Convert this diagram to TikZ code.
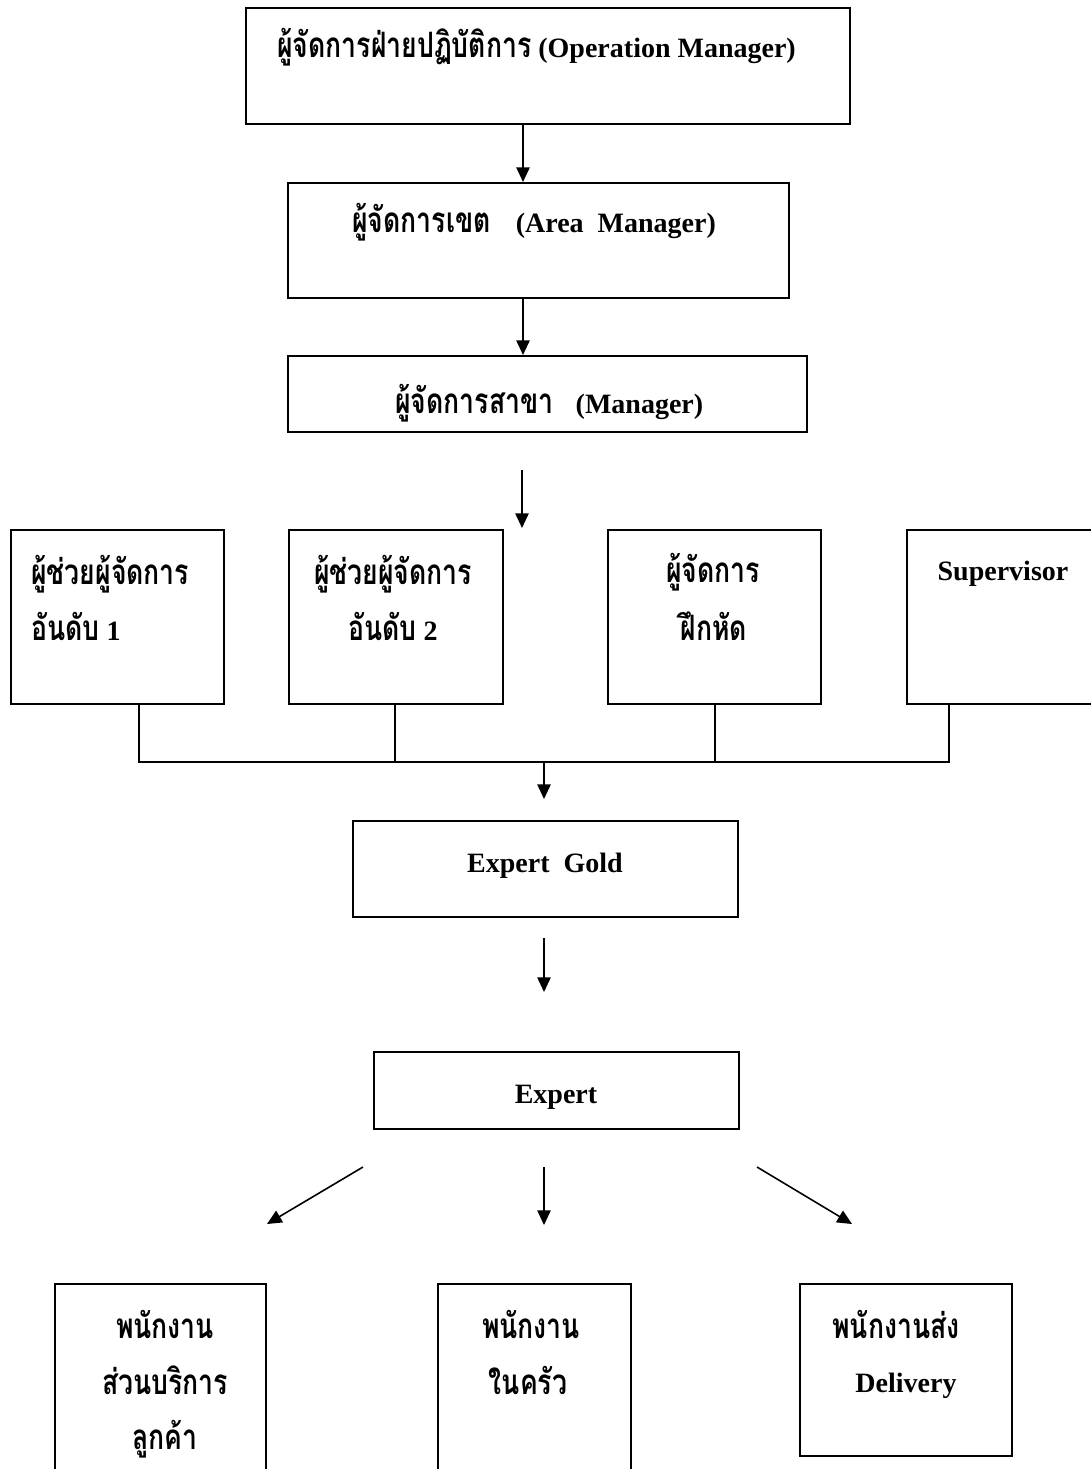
\documentclass[tikz,border=0pt]{standalone}
\usepackage{fontspec}
\setmainfont{Liberation Serif}
\newfontfamily\thaifont[Script=Thai,Scale=1.25,FakeStretch=0.76]{Loma}
\newcommand\thtxt[1]{{\thaifont #1}}
\usetikzlibrary{arrows.meta}
\newdimen\upx
\upx=0.75pt
\tikzset{
  box/.style={draw, line width=1.4pt, anchor=north west, inner sep=0pt},
  link/.style={line width=1.2pt},
  arr/.style={link, -{Triangle[length=11pt,width=10pt]}},
  lbl/.style={anchor=base, inner sep=0pt, font=\fontsize{21pt}{25pt}\selectfont\bfseries},
  lbll/.style={lbl, anchor=base west},
}
\begin{document}
\begin{tikzpicture}[x=0.75pt,y=-0.75pt]
\useasboundingbox (0,0) rectangle (1091,1469);

% management chain
\node[box, minimum width=604\upx, minimum height=116\upx] (op) at (245,7) {};
\node[box, minimum width=501\upx, minimum height=115\upx] (area) at (287,182) {};
\node[box, minimum width=519\upx, minimum height=76\upx] (mgr) at (287,355) {};

\node[lbll] (op-t) at (277,58) {\thtxt{ผู้จัดการฝ่ายปฏิบัติการ} (Operation Manager)};
\node[lbll] (area-t) at (352,233) {\thtxt{ผู้จัดการเขต}\hspace{0.9em}(Area\ \ Manager)};
\node[lbll] (mgr-t) at (395,413) {\thtxt{ผู้จัดการสาขา}\hspace{0.8em}(Manager)};

% assistant row
\node[box, minimum width=213\upx, minimum height=174\upx] (a1) at (10,529) {};
\node[box, minimum width=214\upx, minimum height=174\upx] (a2) at (288,529) {};
\node[box, minimum width=213\upx, minimum height=174\upx] (tr) at (607,529) {};
\node[box, minimum width=220\upx, minimum height=174\upx] (sup) at (906,529) {};

\node[lbll] (a1-t1) at (31,584) {\thtxt{ผู้ช่วยผู้จัดการ}};
\node[lbll] (a1-t2) at (31,640) {\thtxt{อันดับ} 1};
\node[lbl] (a2-t1) at (393,584) {\thtxt{ผู้ช่วยผู้จัดการ}};
\node[lbl] (a2-t2) at (393,640) {\thtxt{อันดับ} 2};
\node[lbl] (tr-t1) at (713,582) {\thtxt{ผู้จัดการ}};
\node[lbl] (tr-t2) at (714,640) {\thtxt{ฝึกหัด}};
\node[lbl] (sup-t) at (1003,580) {Supervisor};

% expert levels
\node[box, minimum width=385\upx, minimum height=96\upx] (eg) at (352,820) {};
\node[box, minimum width=365\upx, minimum height=77\upx] (ex) at (373,1051) {};
\node[lbl] (eg-t) at (545,872) {Expert\ \ Gold};
\node[lbl] (ex-t) at (556,1103) {Expert};

% staff
\node[box, minimum width=211\upx, minimum height=220\upx] (sv) at (54,1283) {};
\node[box, minimum width=193\upx, minimum height=220\upx] (kt) at (437,1283) {};
\node[box, minimum width=212\upx, minimum height=172\upx] (dl) at (799,1283) {};

\node[lbl] (sv-t1) at (165,1338) {\thtxt{พนักงาน}};
\node[lbl] (sv-t2) at (165,1394) {\thtxt{ส่วนบริการ}};
\node[lbl] (sv-t3) at (165,1449) {\thtxt{ลูกค้า}};
\node[lbl] (kt-t1) at (531,1338) {\thtxt{พนักงาน}};
\node[lbl] (kt-t2) at (528,1394) {\thtxt{ในครัว}};
\node[lbl] (dl-t1) at (896,1338) {\thtxt{พนักงานส่ง}};
\node[lbl] (dl-t2) at (906,1392) {Delivery};

% connectors
\coordinate (c1) at (523,0);
\draw[arr] (op.south -| c1) -- (area.north -| c1);
\draw[arr] (area.south -| c1) -- (mgr.north -| c1);

\coordinate (m1) at (522,470);
\coordinate (m2) at (522,528);
\draw[arr] (m1) -- (m2);

\coordinate (bA) at (139,762);
\coordinate (bB) at (395,762);
\coordinate (bC) at (715,762);
\coordinate (bD) at (949,762);
\coordinate (bE) at (544,762);
\draw[link] (a1.south -| bA) -- (bA) -- (bD) -- (sup.south -| bD);
\draw[link] (a2.south -| bB) -- (bB);
\draw[link] (tr.south -| bC) -- (bC);
\draw[arr, shorten >=21\upx] (bE) -- (eg.north -| bE);
\draw[arr, shorten <=20\upx, shorten >=59\upx] (eg.south -| bE) -- (ex.north -| bE);

\coordinate (s1) at (363,1167);
\coordinate (t1) at (267,1224);
\coordinate (s2) at (544,1167);
\coordinate (t2) at (544,1225);
\coordinate (s3) at (757,1167);
\coordinate (t3) at (852,1224);
\draw[arr] (s1) -- (t1);
\draw[arr] (s2) -- (t2);
\draw[arr] (s3) -- (t3);
\end{tikzpicture}
\end{document}
